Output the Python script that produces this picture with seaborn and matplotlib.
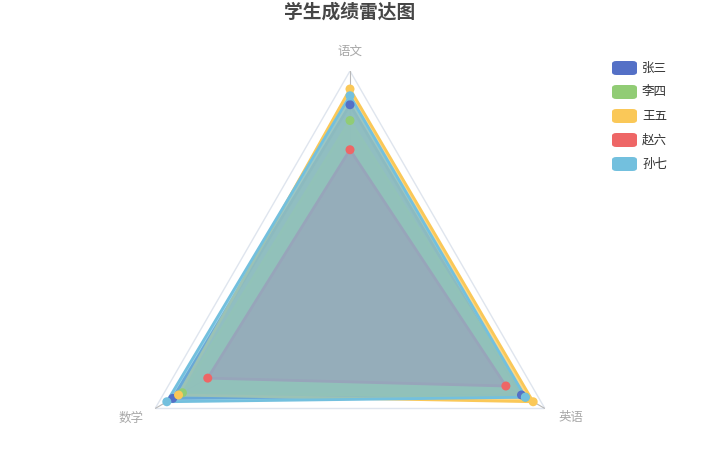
import numpy as np
import pandas as pd
import matplotlib
matplotlib.use("Agg")
import matplotlib.pyplot as plt
from matplotlib.patches import FancyBboxPatch
import seaborn as sns

# ---- data ----
subjects = ["语文", "英语", "数学"]
students = ["张三", "李四", "王五", "赵六", "孙七"]
scores_zhangsan = [85, 88, 91]
scores_lisi = [78, 90, 86]
scores_wangwu = [92, 94, 88]
scores_zhaoliu = [65, 80, 73]
scores_sunqi = [89, 90, 94]
max_score = 100
colors = ["#5470c6", "#91cc75", "#fac858", "#ee6666", "#73c0de"]

all_scores = [scores_zhangsan, scores_lisi, scores_wangwu, scores_zhaoliu, scores_sunqi]

sns.set_theme(style="white")
plt.rcParams["font.family"] = ["Noto Sans CJK SC", "DejaVu Sans"]

W, H = 724, 468
fig = plt.figure(figsize=(W / 100, H / 100), dpi=100)
cx, cy, R = 350, 296, 225
ax = fig.add_axes([(cx - R) / W, (H - cy - R) / H, 2 * R / W, 2 * R / H], projection="polar")
ax.set_theta_offset(np.pi / 2)
ax.set_theta_direction(-1)
ax.set_ylim(0, max_score)
ax.grid(False)
ax.set_xticks([])
ax.set_yticks([])
ax.spines["polar"].set_visible(False)
ax.patch.set_alpha(0)

n = len(subjects)
theta = np.arange(n) * 2 * np.pi / n
theta_closed = np.concatenate([theta, theta[:1]])

# outer triangle and axis lines
ax.plot(theta_closed, [max_score] * (n + 1), color="#dfe5ee", lw=1.0, zorder=1)
for t in theta:
    ax.plot([t, t], [0, max_score], color="#b8b8b8", lw=0.8, zorder=1)

rows = []
for name, sc in zip(students, all_scores):
    for subj, t, v in zip(subjects, theta, sc):
        rows.append({"student": name, "subject": subj, "theta": t, "score": v})
df = pd.DataFrame(rows)

for i, (name, col) in enumerate(zip(students, colors)):
    sub = df[df.student == name]
    th = np.concatenate([sub.theta.values, sub.theta.values[:1]])
    r = np.concatenate([sub.score.values, sub.score.values[:1]])
    ax.plot(th, r, color=col, lw=2, zorder=2 + 2 * i, solid_joinstyle="miter")
    ax.fill(th, r, color=col, alpha=0.7, lw=0, zorder=3 + 2 * i)

for i, (name, col) in enumerate(zip(students, colors)):
    sub = df[df.student == name]
    sns.scatterplot(data=sub, x="theta", y="score", color=col, s=42, edgecolor="none",
                    ax=ax, zorder=20 + i, legend=False, clip_on=False)
ax.set_xlabel("")
ax.set_ylabel("")

label_offsets = [(0, 0), (6, 0.5), (-5, 0.5)]
for subj, t, off in zip(subjects, theta, label_offsets):
    ax.annotate(subj, xy=(t, 109), xytext=off, textcoords="offset points",
                ha="center", va="center", fontsize=9, color="#a8a8a8", annotation_clip=False)

fig.text(cx / W, 1 - 12 / H, "学生成绩雷达图", ha="center", va="center",
         fontsize=13.5, fontweight="bold", color="#464646")

# legend
for i, (name, col) in enumerate(zip(students, colors)):
    yc = 68 + 24 * i
    box = FancyBboxPatch((612 / W, 1 - (yc + 7) / H), 25 / W, 14 / H,
                         boxstyle="round,pad=0,rounding_size=0.006",
                         transform=fig.transFigure, facecolor=col, edgecolor="none")
    fig.patches.append(box)
    fig.text(642 / W, 1 - yc / H, name, ha="left", va="center", fontsize=9, color="#333333")

fig.savefig("out.png", dpi=100)
